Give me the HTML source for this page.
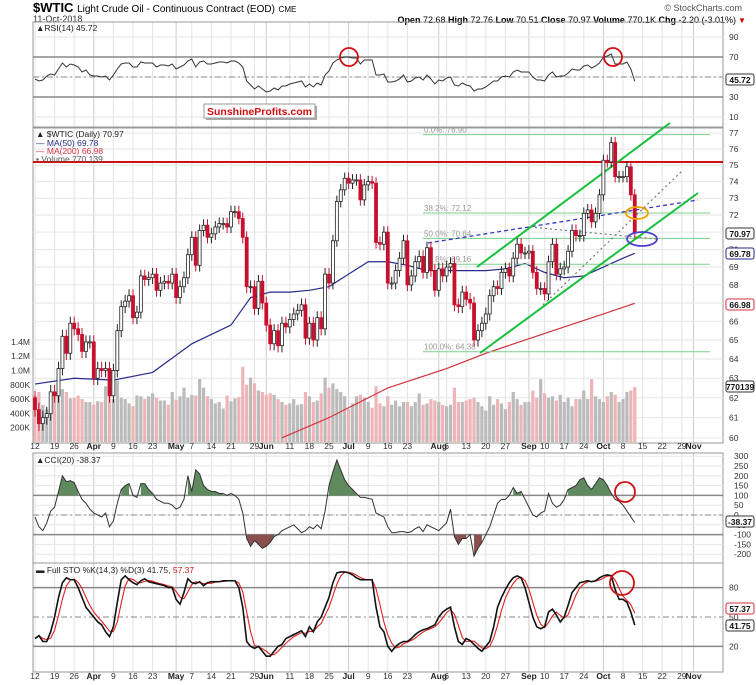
<!DOCTYPE html>
<html><head><meta charset="utf-8"><style>
body{margin:0;background:#fff;}
svg{display:block;font-family:"Liberation Sans",sans-serif;}
</style></head><body>
<svg id="c" width="756" height="685" viewBox="0 0 756 685">
<rect width="756" height="685" fill="#fff"/>
<text x="33" y="12" font-size="13" font-weight="bold">$WTIC <tspan font-size="10" font-weight="normal">Light Crude Oil - Continuous Contract (EOD)</tspan> <tspan font-size="8" font-weight="normal">CME</tspan></text>
<text x="33" y="22" font-size="9" fill="#333">11-Oct-2018</text>
<text x="742" y="11" font-size="9" fill="#555" text-anchor="end">© StockCharts.com</text>
<text x="736" y="23" font-size="9" text-anchor="end"><tspan font-weight="bold">Open</tspan> 72.68 <tspan font-weight="bold">High</tspan> 72.76 <tspan font-weight="bold">Low</tspan> 70.51 <tspan font-weight="bold">Close</tspan> 70.97 <tspan font-weight="bold">Volume</tspan> 770.1K <tspan font-weight="bold">Chg</tspan> -2.20 (-3.01%)</text>
<text x="738" y="23" font-size="8" fill="#c00">▼</text>
<g id="g"></g>
</svg>
<script>
const closes=[61.4,60.7,61.0,61.2,62.3, 62.1,63.5,65.2,64.3,65.9, 65.6,65.3,64.4,64.9,64.9, 63.0,63.5,63.4,63.5,62.1, 63.4,65.5,66.8,67.1,67.4, 66.2,66.5,68.5,68.3,68.4, 68.6,67.7,68.1,68.2,68.1, 68.6,67.3,67.9,68.4,69.7, 70.7,69.1,71.1,71.4,70.7, 70.9,71.3,71.5,71.5,71.3, 72.2,72.2,71.8,70.7,67.9, 67.9,66.7,68.2,67.0,65.8, 64.8,65.5,64.7,65.9,65.7, 66.1,66.4,66.6,66.9,65.1, 65.9,65.0,66.2,65.6,68.6, 68.1,70.5,72.8,73.5,74.2, 73.9,74.1,74.1,72.9,73.8, 74.0,73.9,70.4,70.3,71.0, 68.1,68.1,68.8,69.5,70.5, 68.0,68.5,69.3,69.6,68.7, 70.1,68.8,67.7,68.9,68.5, 69.0,69.2,66.9,66.8,67.6, 67.2,67.0,65.0,65.5,65.9, 66.4,67.4,67.9,67.8,68.7, 68.9,68.5,69.5,70.3,69.8, 69.8,69.9,68.7,67.8,67.8, 67.5,69.3,70.3,68.6,68.9, 69.0,69.9,71.1,70.8,70.8, 72.1,72.3,71.6,72.1,73.2, 75.3,75.2,76.4,74.3,74.3, 74.3,74.9,73.2,70.97];
const firstOpen=62.0;
const volumes=[650,700,520,460,680, 660,690,740,700,610, 620,650,600,560,560, 520,570,560,780,640, 600,860,620,600,540, 500,650,640,600,640, 680,620,580,580,520, 700,590,640,760,620, 660,650,880,760,640, 600,540,560,470,650, 570,610,630,1050,800, 900,820,720,700,660, 680,660,600,560,520, 540,600,520,530,700, 640,560,580,680,900, 760,820,740,700,640, 460,540,640,660,620, 560,480,780,540,500, 640,520,580,500,560, 560,500,560,680,520, 540,600,580,560,520, 500,520,760,560,560, 580,600,620,560,500, 440,640,520,600,540, 460,560,700,600,520, 560,560,720,620,880, 680,620,640,580,660, 560,620,500,600,600, 720,600,880,640,600, 560,640,700,660,560, 600,700,720,770];
const rsi=[48,46,47,51,53, 52,58,64,60,63, 62,60,55,57,52, 51,51,50,51,47, 52,58,63,64,64, 60,60,65,64,64, 64,60,62,62,61, 63,58,60,62,66, 68,60,65,66,63, 63,64,65,65,64, 66,66,64,60,46, 42,38,41,38,35, 36,39,37,41,41, 43,44,45,46,40, 43,40,44,42,52, 56,64,67,69,70, 70,69,69,63,67, 67,67,52,52,53, 45,45,46,48,52, 45,46,49,50,47, 52,48,43,47,46, 49,50,42,41,44, 42,41,36,38,38, 40,43,46,46,50, 51,50,55,57,55, 55,55,50,47,47, 46,52,55,50,51, 51,54,58,57,57, 61,62,59,61,64, 70,71,73,63,63, 63,65,58,45.72];
const cci=[-10,-60,-80,-40,20, 40,120,200,170,175, 165,120,80,60,30, 10,0,-10,10,-60, -30,60,130,150,160, 100,90,160,160,130, 110,80,70,60,60, 50,30,40,80,200, 120,230,210,150,130, 120,120,110,110,100, 110,100,80,10,-120, -160,-130,-150,-170,-160, -140,-110,-100,-80,-70, -60,-50,-70,-90,-80, -60,-70,-50,-70,20, 150,220,280,230,180, 150,130,110,90,90, 85,80,10,0,-10, -60,-90,-90,-85,-85, -90,-85,-70,-60,-85, -50,-60,-70,-80,-60, -40,30,-110,-150,-120, -120,-100,-210,-170,-140, -100,-60,0,60,80, 80,100,140,110,120, 80,40,0,-10,10, 20,110,60,40,50, 80,130,140,150,180, 190,150,130,160,190, 180,150,110,80,70, 50,20,-10,-38.37];
const stoK=[28,31,25,25,35, 50,70,85,90,88, 88,80,70,60,55, 50,45,42,35,30, 40,65,88,92,88, 85,83,87,89,86, 85,84,83,82,80, 80,68,63,75,89, 85,84,86,82,85, 86,86,86,87,87, 87,87,80,60,25, 20,18,20,15,10, 10,15,20,22,28, 30,32,34,36,30, 40,35,45,50,60, 70,85,95,96,96, 95,93,90,88,88, 88,88,60,40,35, 20,15,20,23,25, 25,28,32,35,37, 38,40,42,50,55, 58,60,40,25,22, 28,26,22,18,15, 20,25,40,60,70, 78,85,90,92,90, 80,65,50,40,38, 40,55,58,52,45, 50,62,75,80,85, 86,87,86,87,90, 92,93,92,78,68, 68,65,55,41.75];
const ma50Idx=[0,10,20,25,30,40,50,55,60,65,70,75,80,85,90,95,100,105,110,115,120,125,130,135,140,145,150,153];
const ma50Val=[62.7,63.0,62.9,63.1,63.3,64.8,65.8,67.3,67.6,67.6,67.7,67.9,68.6,69.3,69.3,69.1,68.8,68.8,68.8,68.8,68.9,69.2,68.7,68.4,68.5,69.0,69.5,69.78];
const ma200Idx=[63,75,90,105,115,125,135,145,153];
const ma200Val=[60.0,61.0,62.5,63.5,64.3,65.0,65.7,66.4,66.98];
const xTickIdx=[0,5,10,15,20,25,30,36,40,45,50,56,59,65,70,75,80,85,90,95,103,105,110,115,120,126,130,135,140,145,150,155,160,165,168];
const xTickLbl=["12","19","26","Apr","9","16","23","May","7","14","21","29","Jun","11","18","25","Jul","9","16","23","Aug","6","13","20","27","Sep","10","17","24","Oct","8","15","22","29","Nov"];
const priceTicks=[77,76,75,74,73,72,71,70,69,68,67,66,65,64,63,62,61,60];
const volTicks=[200,400,600,800,1000,1200,1400];
const volLbl=["200K","400K","600K","800K","1.0M","1.2M","1.4M"];
const rsiTicks=[90,70,50,30,10];
const cciTicks=[300,250,200,150,100,50,0,-50,-100,-150,-200];
const stoTicks=[80,50,20];

const NS="http://www.w3.org/2000/svg";
const G=document.getElementById('g');
function mk(t,a,p){const e=document.createElementNS(NS,t);for(const k in a)e.setAttribute(k,a[k]);(p||G).appendChild(e);return e;}
const L=33,R=723;
const X=i=>35+i*3.92;
const PY=p=>133+(Math.log(77)-Math.log(p))*1222;
const VY=v=>442-v/200*14.3;
const RY=v=>77-(v-50);
const CY=v=>515-v*0.196;
const SY=v=>666-v*0.98;
const panels=[[22,127],[128,443],[453,563],[563,672]];
// gridlines
panels.forEach((p,k)=>{
  xTickIdx.forEach((ix,j)=>{const isM=isNaN(+xTickLbl[j]);
    const e=mk('line',{x1:X(ix),x2:X(ix),y1:p[0],y2:p[1],stroke:isM?'#ccc':'#e4e4e4','stroke-width':1});
    });
  const b=mk('rect',{x:L,y:p[0],width:R-L,height:p[1]-p[0],fill:'none',stroke:'#999'});
  
});
function axisLbl(x,y,t,anchor,extra){const e=mk('text',Object.assign({x:x,y:y,'font-size':8.5,fill:'#333','text-anchor':anchor||'start'},extra||{}));e.textContent=t;return e;}
priceTicks.forEach(p=>{const y=PY(p);
  const e=mk('line',{x1:L,x2:R,y1:y,y2:y,stroke:'#e6e6e6'});
  axisLbl(729,y+3,String(p));});
volTicks.forEach((v,j)=>axisLbl(30,VY(v)+3,volLbl[j],'end'));
rsiTicks.forEach(v=>{const y=RY(v);const s=(v==70||v==30);
  const e=mk('line',{x1:L,x2:R,y1:y,y2:y,stroke:s?'#888':'#e6e6e6','stroke-width':s?1.5:1});
  axisLbl(729,y+3,String(v));});
mk('line',{x1:L,x2:R,y1:RY(50),y2:RY(50),stroke:'#888','stroke-dasharray':'6,3,2,3'});
cciTicks.forEach(v=>{const y=CY(v);const s=(v==100||v==-100);
  const e=mk('line',{x1:L,x2:R,y1:y,y2:y,stroke:s?'#888':'#e6e6e6','stroke-width':s?1.5:1});
  axisLbl(734,y+3,String(v));});
mk('line',{x1:L,x2:R,y1:CY(0),y2:CY(0),stroke:'#888','stroke-dasharray':'6,3,2,3'});
stoTicks.forEach(v=>{const y=SY(v);
  const e=mk('line',{x1:L,x2:R,y1:y,y2:y,stroke:'#888','stroke-width':v==50?1:1.5,'stroke-dasharray':v==50?'6,3,2,3':'none'});
  axisLbl(729,y+3,String(v));});
// x labels
[449,679].forEach(y=>xTickIdx.forEach((ix,j)=>{const isM=isNaN(+xTickLbl[j]);
  axisLbl(X(ix)+(isM?0:0),y,xTickLbl[j],'middle',isM?{'font-weight':'bold',fill:'#222'}:{});}));
// volume
closes.forEach((c,i)=>{const o=i?closes[i-1]:firstOpen;const v=volumes[i];
  const e=mk('rect',{x:X(i)-1.6,y:VY(v),width:3.2,height:442-VY(v),fill:c>=o?'#bbb':'#eeb4b8'});
  });
// MAs
function poly(idx,vals,fy,col,w,name,dash){const pts=idx.map((ix,j)=>X(ix)+','+fy(vals[j])).join(' ');
  const e=mk('polyline',{points:pts,fill:'none',stroke:col,'stroke-width':w,'stroke-dasharray':dash||'none'});return e;}
poly(ma200Idx,ma200Val,PY,'#d2323c',1.2,'ma200-line');
poly(ma50Idx,ma50Val,PY,'#2a2a8a',1.2,'ma50-line');
// annotations
function ln(a,name,col,w,dash){const e=mk('line',Object.assign({stroke:col,'stroke-width':w,'stroke-dasharray':dash||'none'},a));}
[[76.9,'0.0%: 76.90'],[72.12,'38.2%: 72.12'],[70.64,'50.0%: 70.64'],[69.16,'61.8%: 69.16'],[64.38,'100.0%: 64.38']].forEach(f=>{
  ln({x1:423,x2:710,y1:PY(f[0]),y2:PY(f[0])},'fib-line','#7ccf8c',1);
  const t=mk('text',{x:424,y:PY(f[0])-2,'font-size':8,fill:'#9a9a9a'});t.textContent=f[1];});
ln({x1:L,x2:R,y1:162,y2:162},'resistance-line','#d01010',2);
ln({x1:428,y1:243,x2:698,y2:200},'blue-dashed-trendline','#3838c0',1.3,'4,3');
ln({x1:530,y1:227,x2:657,y2:239},'grey-dotted-line','#777',1.2,'2,3');
ln({x1:543,y1:305,x2:683,y2:170},'grey-dotted-line-2','#777',1.2,'2,3');
ln({x1:477,y1:267,x2:670,y2:123},'channel-upper','#18c040',2);
ln({x1:480,y1:353,x2:698,y2:193},'channel-lower','#18c040',2);
// candles
closes.forEach((c,i)=>{const o=i?closes[i-1]:firstOpen;const up=c>=o;
  const hi=Math.max(o,c)+0.35,lo=Math.min(o,c)-0.35,x=X(i);
  ln({x1:x,x2:x,y1:PY(hi),y2:PY(lo)},'candle-wick',up?'#222':'#c8102e',1);
  const t=PY(Math.max(o,c)),b=PY(Math.min(o,c));
  const e=mk('rect',{x:x-1.5,y:t,width:3,height:Math.max(1,b-t),fill:up?'#fff':'#c8102e',stroke:up?'#222':'#c8102e','stroke-width':0.8});
  });
const ell=(cx,cy,rx,ry,col,name)=>{const e=mk('ellipse',{cx:cx,cy:cy,rx:rx,ry:ry,fill:'none',stroke:col,'stroke-width':1.8});};
ell(637,213,11,6,'#f0a000','orange-ellipse');
ell(642,239,15,7,'#5040d0','blue-ellipse');
// RSI
poly(closes.map((_,i)=>i),rsi,RY,'#333',1,'rsi-line');
// CCI fill
function fillArea(vals,thr,col,above){let d='';let seg=[];
  const flush=()=>{if(seg.length>1){d+='M'+X(seg[0][0])+','+CY(thr)+seg.map(s=>'L'+X(s[0])+','+CY(s[1])).join('')+'L'+X(seg[seg.length-1][0])+','+CY(thr)+'Z';}seg=[];};
  vals.forEach((v,i)=>{if(above?v>thr:v<thr)seg.push([i,v]);else flush();});flush();
  const e=mk('path',{d:d,fill:col,stroke:'none'});}
fillArea(cci,100,'#5e8a5e',true);
fillArea(cci,-100,'#8a5050',false);
poly(closes.map((_,i)=>i),cci,CY,'#333',1,'cci-line');
// STO
const stoD=stoK.map((v,i)=>i<2?v:(stoK[i]+stoK[i-1]+stoK[i-2])/3);
poly(closes.map((_,i)=>i),stoD,SY,'#e02020',1.1,'sto-d-line');
poly(closes.map((_,i)=>i),stoK,SY,'#111',1.6,'sto-k-line');
// red circles
[[349,57,9],[613,57,9],[625,492,10],[622,583,12]].forEach(c=>{const e=mk('circle',{cx:c[0],cy:c[1],r:c[2],fill:'none',stroke:'#d01010','stroke-width':1.8});});
// value boxes
function vbox(y,t,col){const g=mk('g',{});
  mk('rect',{x:726,y:y-6,width:28,height:11,fill:'#fff',stroke:col,rx:2},g);
  const e=mk('text',{x:740,y:y+3,'font-size':8.5,'text-anchor':'middle',fill:'#111','font-weight':'bold'},g);e.textContent=t;}
vbox(80,'45.72','#333');vbox(234,'70.97','#333');vbox(254,'69.78','#2a2a8a');vbox(305,'66.98','#d2323c');
vbox(387,'770139','#333');vbox(522,'-38.37','#333');vbox(609,'57.37','#d2323c');vbox(626,'41.75','#333');
// legends
function leg(x,y,t,col,name){const e=mk('text',{x:x,y:y,'font-size':8.5,fill:col});e.textContent=t;}
leg(36,31,'▲RSI(14) 45.72','#222','rsi-legend');
leg(36,137,'▲ $WTIC (Daily) 70.97','#222','price-legend');
leg(36,146,'— MA(50) 69.78','#2a2a8a','ma50-legend');
leg(36,154,'— MA(200) 66.98','#d2323c','ma200-legend');
leg(36,162,'▪ Volume 770,139','#555','volume-legend');
leg(36,463,'▲CCI(20) -38.37','#222','cci-legend');
const st=mk('text',{x:36,y:573,'font-size':8.5,fill:'#222'});st.innerHTML='▬ Full STO %K(14,3) %D(3) 41.75, <tspan fill="#d02020">57.37</tspan>';


// watermark
const wg=mk('g',{});
mk('rect',{x:206,y:106,width:111,height:14,fill:'#aaa'},wg);
mk('rect',{x:204,y:104,width:111,height:14,fill:'#fff',stroke:'#999'},wg);
const wt=mk('text',{x:259.5,y:115,'font-size':10.5,'font-weight':'bold',fill:'#d01010','text-anchor':'middle'},wg);wt.textContent='SunshineProfits.com';
</script>
</body></html>
